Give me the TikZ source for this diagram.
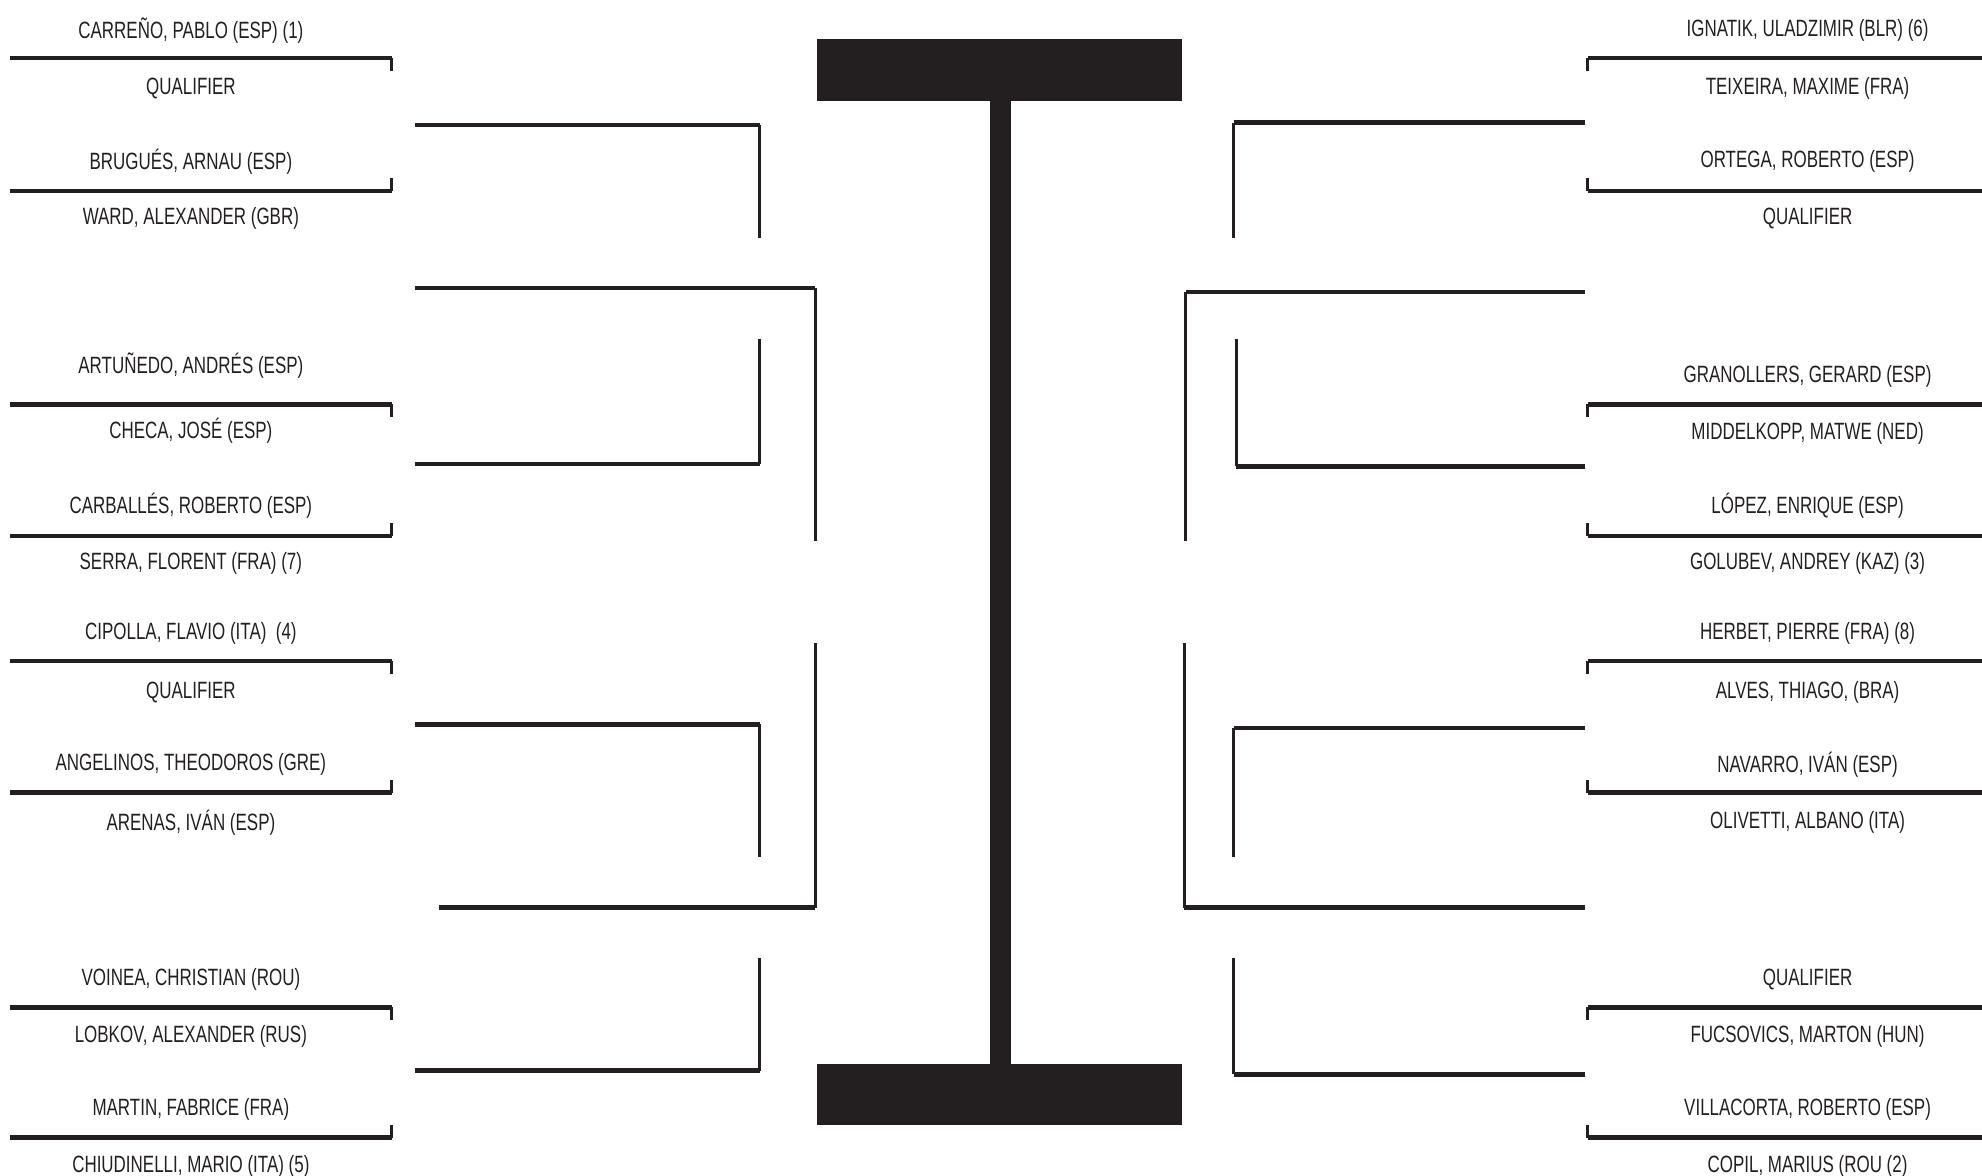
\documentclass[tikz,border=0pt]{standalone}
\usepackage{fontspec}
\setmainfont[FakeStretch=0.72]{Liberation Sans}
\usepackage{xcolor}
\usepackage{tikz}
\definecolor{ink}{HTML}{231F20}

\tikzset{
  player/.style={font=\fontsize{6.7}{8}\selectfont, inner sep=0pt, text=ink, yshift=-0.7pt},
  seedline/.style={draw=ink, line width=1.3pt},
  tickline/.style={draw=ink, line width=0.9pt},
  vline/.style={draw=ink, line width=0.8pt}
}

\begin{document}
\begin{tikzpicture}[x=0.01264cm, y=-0.01264cm]
  \useasboundingbox (0,0) rectangle (1568,930);
  % ---- left half: names ----
  \node[player] (l1)  at (151, 22) {CARREÑO, PABLO (ESP) (1)};
  \node[player] (l2)  at (151, 68) {QUALIFIER};
  \node[player] (l3)  at (151,126) {BRUGUÉS, ARNAU (ESP)};
  \node[player] (l4)  at (151,171) {WARD, ALEXANDER (GBR)};
  \node[player] (l5)  at (151,287) {ARTUÑEDO, ANDRÉS (ESP)};
  \node[player] (l6)  at (151,339) {CHECA, JOSÉ (ESP)};
  \node[player] (l7)  at (151,398) {CARBALLÉS, ROBERTO (ESP)};
  \node[player] (l8)  at (151,444) {SERRA, FLORENT (FRA) (7)};
  \node[player] (l9)  at (151,499) {CIPOLLA, FLAVIO (ITA)\ \ (4)};
  \node[player] (l10) at (151,546) {QUALIFIER};
  \node[player] (l11) at (151,603) {ANGELINOS, THEODOROS (GRE)};
  \node[player] (l12) at (151,649) {ARENAS, IVÁN (ESP)};
  \node[player] (l13) at (151,773) {VOINEA, CHRISTIAN (ROU)};
  \node[player] (l14) at (151,818) {LOBKOV, ALEXANDER (RUS)};
  \node[player] (l15) at (151,876) {MARTIN, FABRICE (FRA)};
  \node[player] (l16) at (151,921) {CHIUDINELLI, MARIO (ITA) (5)};
  % ---- left half: first round lines ----
  \draw[seedline] (8, 46) -- (310, 46);  \draw[tickline] (310, 46) -- (310, 56);
  \draw[seedline] (8,151) -- (310,151);  \draw[tickline] (310,151) -- (310,141);
  \draw[seedline] (8,320) -- (310,320);  \draw[tickline] (310,320) -- (310,330);
  \draw[seedline] (8,424) -- (310,424);  \draw[tickline] (310,424) -- (310,414);
  \draw[seedline] (8,523) -- (310,523);  \draw[tickline] (310,523) -- (310,533);
  \draw[seedline] (8,627) -- (310,627);  \draw[tickline] (310,627) -- (310,617);
  \draw[seedline] (8,797) -- (310,797);  \draw[tickline] (310,797) -- (310,807);
  \draw[seedline] (8,900) -- (310,900);  \draw[tickline] (310,900) -- (310,890);
  % ---- left half: later rounds ----
  \draw[seedline] (328, 99) -- (601, 99);  \draw[vline] (601, 99) -- (601,188);
  \draw[seedline] (328,228) -- (645,228);  \draw[vline] (645,228) -- (645,428);
  \draw[vline] (601,268) -- (601,367);     \draw[seedline] (328,367) -- (601,367);
  \draw[seedline] (328,573) -- (601,573);  \draw[vline] (601,573) -- (601,678);
  \draw[vline] (645,509) -- (645,718);     \draw[seedline] (347,718) -- (645,718);
  \draw[vline] (601,758) -- (601,847);     \draw[seedline] (328,847) -- (601,847);
  % ---- trophy ----
  \fill[ink] (646, 31) rectangle (935, 80);
  \fill[ink] (783, 80) rectangle (800,842);
  \fill[ink] (646,842) rectangle (935,890);
  % ---- right half: names ----
  \node[player] (r1)  at (1430, 22) {IGNATIK, ULADZIMIR (BLR) (6)};
  \node[player] (r2)  at (1430, 68) {TEIXEIRA, MAXIME (FRA)};
  \node[player] (r3)  at (1430,126) {ORTEGA, ROBERTO (ESP)};
  \node[player] (r4)  at (1430,171) {QUALIFIER};
  \node[player] (r5)  at (1430,296) {GRANOLLERS, GERARD (ESP)};
  \node[player] (r6)  at (1430,341) {MIDDELKOPP, MATWE (NED)};
  \node[player] (r7)  at (1430,398) {LÓPEZ, ENRIQUE (ESP)};
  \node[player] (r8)  at (1430,444) {GOLUBEV, ANDREY (KAZ) (3)};
  \node[player] (r9)  at (1430,499) {HERBET, PIERRE (FRA) (8)};
  \node[player] (r10) at (1430,546) {ALVES, THIAGO, (BRA)};
  \node[player] (r11) at (1430,603) {NAVARRO, IVÁN (ESP)};
  \node[player] (r12) at (1430,649) {OLIVETTI, ALBANO (ITA)};
  \node[player] (r13) at (1430,773) {QUALIFIER};
  \node[player] (r14) at (1430,818) {FUCSOVICS, MARTON (HUN)};
  \node[player] (r15) at (1430,876) {VILLACORTA, ROBERTO (ESP)};
  \node[player] (r16) at (1430,921) {COPIL, MARIUS (ROU (2)};
  % ---- right half: first round lines ----
  \draw[seedline] (1256, 46) -- (1568, 46);  \draw[tickline] (1256, 46) -- (1256, 56);
  \draw[seedline] (1256,151) -- (1568,151);  \draw[tickline] (1256,151) -- (1256,141);
  \draw[seedline] (1256,320) -- (1568,320);  \draw[tickline] (1256,320) -- (1256,330);
  \draw[seedline] (1256,424) -- (1568,424);  \draw[tickline] (1256,424) -- (1256,414);
  \draw[seedline] (1256,523) -- (1568,523);  \draw[tickline] (1256,523) -- (1256,533);
  \draw[seedline] (1256,627) -- (1568,627);  \draw[tickline] (1256,627) -- (1256,617);
  \draw[seedline] (1256,797) -- (1568,797);  \draw[tickline] (1256,797) -- (1256,807);
  \draw[seedline] (1256,900) -- (1568,900);  \draw[tickline] (1256,900) -- (1256,890);
  % ---- right half: later rounds ----
  \draw[seedline] (976, 97) -- (1254, 97);  \draw[vline] (976, 97) -- (976,188);
  \draw[seedline] (938,231) -- (1254,231);  \draw[vline] (938,231) -- (938,428);
  \draw[vline] (978,268) -- (978,369);      \draw[seedline] (978,369) -- (1254,369);
  \draw[seedline] (976,576) -- (1254,576);  \draw[vline] (976,576) -- (976,678);
  \draw[vline] (937,509) -- (937,718);      \draw[seedline] (937,718) -- (1254,718);
  \draw[vline] (976,758) -- (976,850);      \draw[seedline] (976,850) -- (1254,850);
\end{tikzpicture}
\end{document}
